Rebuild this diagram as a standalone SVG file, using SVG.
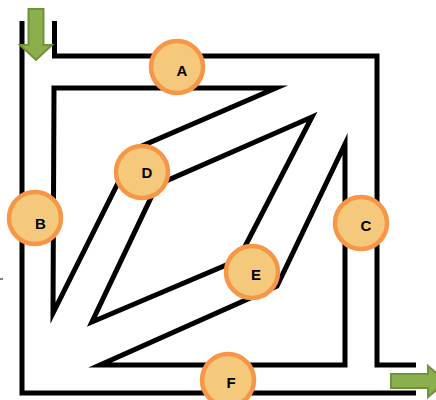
<svg xmlns="http://www.w3.org/2000/svg" width="436" height="400" viewBox="0 0 436 400">
  <style>
    .wall { fill: none; stroke: #000; stroke-width: 5; stroke-linejoin: miter; stroke-miterlimit: 12; }
    .node circle { fill: #F5C97B; stroke: #F79646; stroke-width: 4.5; }
    .node text { font-family: "Liberation Sans", Arial, sans-serif; font-weight: bold; font-size: 15px; fill: #000; text-anchor: middle; }
    .arrow { fill: #8BAF4D; stroke: #6E9338; stroke-width: 2; stroke-linejoin: miter; }
  </style>
  <rect width="436" height="400" fill="#fff"/>
  <g id="walls">
    <polyline class="wall" points="22,21 22,393 416,393"/>
    <polyline class="wall" points="54.5,21 54.5,56 377,56 377,365 416,365"/>
    <polygon class="wall" points="54,88 276,88 135,149 53,313"/>
    <polygon class="wall" points="312,117 157,185 92,322 238,260"/>
    <polygon class="wall" points="345,144 345,365 100,365 277,286"/>
    <line x1="0" y1="279" x2="3" y2="279" stroke="#000" stroke-width="1"/>
  </g>
  <g id="arrows">
    <polygon class="arrow" points="28.5,9 43.5,9 43.5,45 52,45 36,60 20,45 28.5,45"/>
    <polygon class="arrow" points="391,374 428,374 428,366 446,381.5 428,397 428,388 391,388"/>
  </g>
  <g id="A" class="node"><circle cx="177" cy="67" r="26"/><text x="182" y="76">A</text></g>
  <g id="B" class="node"><circle cx="35" cy="218" r="26"/><text x="40.5" y="229">B</text></g>
  <g id="C" class="node"><circle cx="361" cy="223" r="26"/><text x="366" y="231">C</text></g>
  <g id="D" class="node"><circle cx="142" cy="172" r="26"/><text x="147" y="178">D</text></g>
  <g id="E" class="node"><circle cx="252" cy="272" r="26"/><text x="256" y="280">E</text></g>
  <g id="F" class="node"><circle cx="228" cy="380" r="26"/><text x="231" y="388">F</text></g>
</svg>
